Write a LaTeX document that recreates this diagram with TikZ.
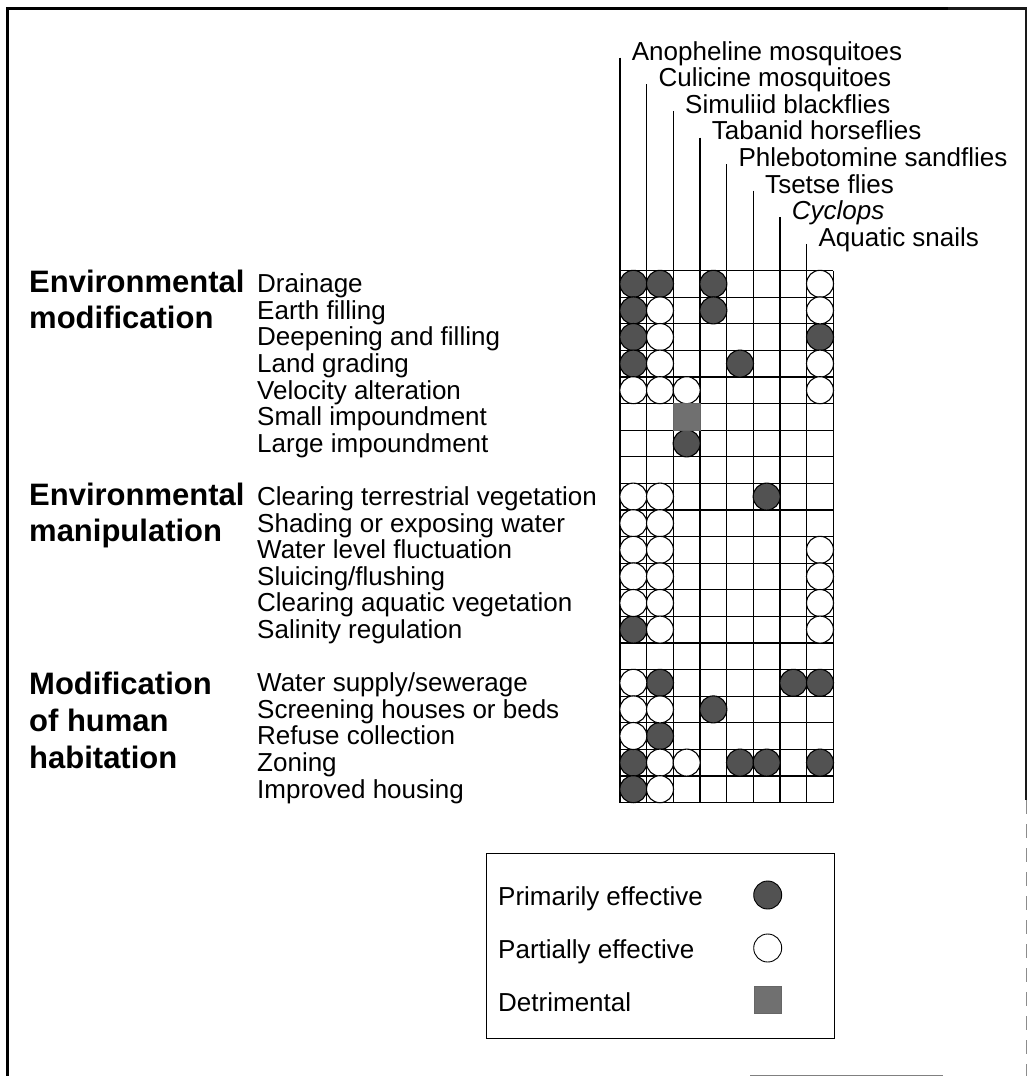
\documentclass[tikz,border=0pt]{standalone}
\usepackage{fontspec}
\setmainfont{Liberation Sans}
\begin{document}
\begin{tikzpicture}[x=1pt,y=-1pt,
  lbl/.style={anchor=base west, inner sep=0pt, font=\fontsize{26}{26}\selectfont},
  grp/.style={anchor=base west, inner sep=0pt, font=\fontsize{31}{31}\selectfont\bfseries},
  gridline/.style={line width=1.2pt},
  prim/.style={circle, draw, line width=1.1pt, fill=black!68, minimum size=27pt, inner sep=0pt},
  part/.style={circle, draw, line width=1.1pt, fill=white, minimum size=27pt, inner sep=0pt},
  detr/.style={rectangle, draw=black!60, line width=0.6pt, fill=black!56, minimum width=26.7pt, minimum height=26.6pt, inner sep=0pt},
  frame/.style={line width=3pt},
]
\useasboundingbox (0,0) rectangle (1033,1076);

% outer frame: heavy left and top rules, lighter right rule fading out below
\coordinate (fbl) at (7,1076);
\coordinate (ftl) at (5.5,8);
\coordinate (ftm) at (950,8);
\coordinate (ftr) at (1027,9.5);
\coordinate (frm) at (1025,800);
\coordinate (fbr) at (1026,1076);
\draw[frame] (fbl) -- (7,8) -- (ftm);
\fill[black!90] (948,7) rectangle (ftr);
\fill[black!90] (frm) rectangle (ftr);
\draw[line width=0.9pt, black!45, dash pattern=on 14pt off 10pt] (1026,800) -- (fbr);
\coordinate (bl1) at (750,1075);
\coordinate (bl2) at (943,1075);
\draw[line width=1pt, black!50] (bl1) -- (bl2);

% matrix grid: 8 columns, 20 rows
\foreach \i in {0,...,8}
  \draw[gridline] ({620+26.667*\i},270.5) -- ({620+26.667*\i},802.5);
\foreach \j in {0,...,20}
  \draw[gridline] (620,{270.5+26.6*\j}) -- (833.3,{270.5+26.6*\j});

% column headings with their leader lines
\foreach \i/\name in {1/Anopheline mosquitoes, 2/Culicine mosquitoes, 3/Simuliid blackflies,
    4/Tabanid horseflies, 5/Phlebotomine sandflies, 6/Tsetse flies,
    7/\textit{Cyclops}, 8/Aquatic snails} {
  \coordinate (top\i) at ({620+26.667*(\i-1)},{57.7+26.6*(\i-1)});
  \coordinate (foot\i) at ({620+26.667*(\i-1)},270.5);
  \node[lbl] (head\i) at ({631.7+26.667*(\i-1)},{60+26.6*(\i-1)}) {\name};
  \draw[line width=1.2pt] (top\i) -- (foot\i);
}

% row labels
\foreach \r/\name in {1/Drainage, 2/Earth filling, 3/Deepening and filling, 4/Land grading,
    5/Velocity alteration, 6/Small impoundment, 7/Large impoundment,
    9/Clearing terrestrial vegetation, 10/Shading or exposing water,
    11/Water level fluctuation, 12/{Sluicing/flushing}, 13/Clearing aquatic vegetation,
    14/Salinity regulation, 16/{Water supply/sewerage}, 17/Screening houses or beds,
    18/Refuse collection, 19/Zoning, 20/Improved housing}
  \node[lbl] (row\r) at (257,{270.5+26.6*\r-4.5}) {\name};

% group labels
\node[grp] (g1a) at (29,292.6) {Environmental};
\node[grp] (g1b) at (29,328.6) {modification};
\node[grp] (g2a) at (29,505.4) {Environmental};
\node[grp] (g2b) at (29,541.4) {manipulation};
\node[grp] (g3a) at (29,694) {Modification};
\node[grp] (g3b) at (29,731) {of human};
\node[grp] (g3c) at (29,768) {habitation};

% matrix entries: row/column
\foreach \r/\c in {1/1,1/2,1/4,2/1,2/4,3/1,3/8,4/1,4/5,7/3,9/6,14/1,
    16/2,16/7,16/8,17/4,18/2,19/1,19/5,19/6,19/8,20/1}
  \node[prim] (m-\r-\c) at ({620+26.667*(\c-0.5)},{270.5+26.6*(\r-0.5)}) {};
\foreach \r/\c in {1/8,2/2,2/8,3/2,4/2,4/8,5/1,5/2,5/3,5/8,9/1,9/2,10/1,10/2,
    11/1,11/2,11/8,12/1,12/2,12/8,13/1,13/2,13/8,14/2,14/8,16/1,17/1,17/2,
    18/1,19/2,19/3,20/2}
  \node[part] (m-\r-\c) at ({620+26.667*(\c-0.5)},{270.5+26.6*(\r-0.5)}) {};
\node[detr] (m-6-3) at ({620+26.667*2.5},{270.5+26.6*5.5}) {};

% legend
\node[draw, line width=1.2pt, minimum width=348pt, minimum height=185pt, anchor=north west, inner sep=0pt]
  (legend) at (486,853) {};
\node[lbl] (lp) at (498,905.7) {Primarily effective};
\node[lbl] (lo) at (498,958) {Partially effective};
\node[lbl] (ld) at (498,1011.7) {Detrimental};
\node[prim, minimum size=28pt, line width=0.9pt] (kp) at (767.7,895) {};
\node[part, minimum size=28pt, line width=0.9pt] (ko) at (767.7,948) {};
\node[detr, minimum width=27.4pt, minimum height=26.6pt] (kd) at (768,1000) {};
\end{tikzpicture}
\end{document}
